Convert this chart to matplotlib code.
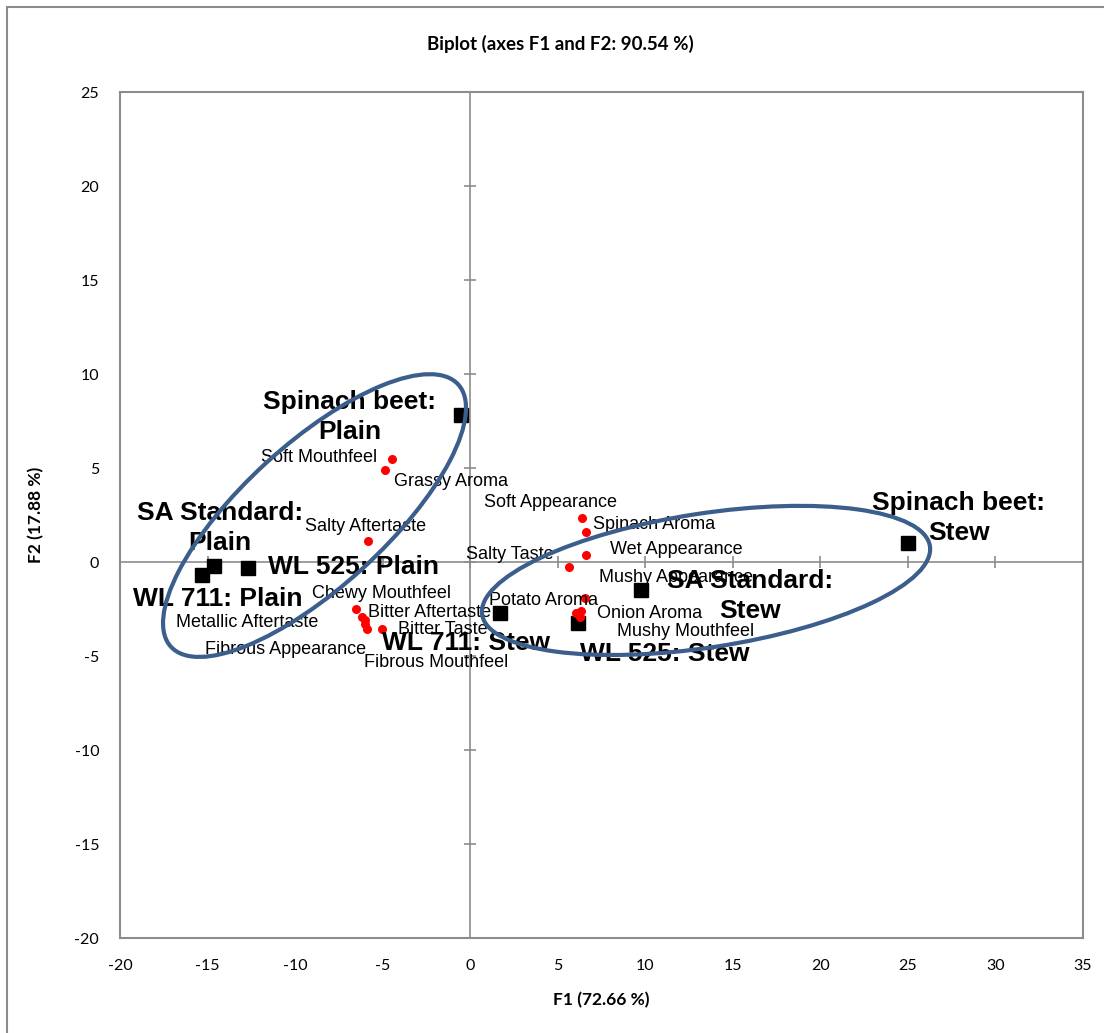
import matplotlib
matplotlib.use('Agg')
import matplotlib.pyplot as plt
from matplotlib.patches import Ellipse, Rectangle
from matplotlib.transforms import ScaledTranslation

plt.rcParams['axes.unicode_minus'] = False

# observations (squares)
obs_names = ['Spinach beet:\nPlain', 'SA Standard:\nPlain', 'WL 711: Plain', 'WL 525: Plain',
             'Spinach beet:\nStew', 'SA Standard:\nStew', 'WL 711: Stew', 'WL 525: Stew']
obs_f1 = [-0.53, -14.63, -15.30, -12.70, 25.00, 9.75, 1.70, 6.13]
obs_f2 = [7.82, -0.21, -0.69, -0.32, 1.00, -1.49, -2.73, -3.26]

# variables (red dots)
var_names = ['Soft Mouthfeel', 'Grassy Aroma', 'Salty Aftertaste', 'Chewy Mouthfeel',
             'Bitter Aftertaste', 'Metallic Aftertaste', 'Fibrous Appearance',
             'Fibrous Mouthfeel', 'Bitter Taste', 'Soft Appearance', 'Spinach Aroma',
             'Wet Appearance', 'Salty Taste', 'Potato Aroma', 'Mushy Appearance',
             'Onion Aroma', 'Mushy Mouthfeel']
var_f1 = [-4.47, -4.87, -5.84, -6.54, -6.18, -6.00, -5.98, -5.89, -5.02,
          6.38, 6.61, 6.63, 5.64, 6.56, 6.33, 6.03, 6.27]
var_f2 = [5.48, 4.89, 1.12, -2.52, -2.95, -3.09, -3.30, -3.54, -3.56,
          2.36, 1.58, 0.36, -0.25, -1.93, -2.60, -2.73, -2.91]

xticks = list(range(-20, 36, 5))
yticks = list(range(-20, 26, 5))

# label offsets in pixels (x right, y up)
obs_off = [(-111, -2), (6, 38), (15, -24), (106, 1), (51, 25), (109, -6), (-34, -30), (87, -31)]
var_off = [(-73, 1), (66, -11), (-2, 14), (26, 16), (68, 5), (-118, -2), (-80, -25),
           (69, -34), (61, -1), (-31, 15), (68, 8), (90, 6), (-59, 12), (-42, -2),
           (95, 33), (74, 0), (106, -15)]

grey = '#8c8c8c'
fig = plt.figure(figsize=(11.04, 10.33), dpi=100)
ax = fig.add_axes([120/1104, 1 - 938/1033, 963/1104, 846/1033])

# frame around the chart
fig.patches.append(Rectangle((7/1104, -0.1), 1.2, 1 - 7/1033 + 0.1, transform=fig.transFigure,
                             fill=False, edgecolor=grey, lw=1.5))

ax.set_xlim(-20, 35)
ax.set_ylim(-20, 25)
for s in ax.spines.values():
    s.set_color(grey)
    s.set_linewidth(1.5)
ax.set_xticks(xticks)
ax.set_yticks(yticks)
ax.tick_params(length=0, labelsize=11.5, pad=15)
for lab in ax.get_xticklabels() + ax.get_yticklabels():
    lab.set_fontfamily('Lato')

# central axes with tick crosses
ax.axhline(0, color=grey, lw=1.2, zorder=1)
ax.axvline(0, color=grey, lw=1.2, zorder=1)
ax.plot(xticks, [0] * len(xticks), '|', color=grey, ms=8, mew=1.2, zorder=1)
ax.plot([0] * len(yticks), yticks, '_', color=grey, ms=8, mew=1.2, zorder=1)

ax.plot(var_f1, var_f2, 'o', color='#ff0000', ms=6.5, mec='none', zorder=3)
ax.plot(obs_f1, obs_f2, 's', color='black', ms=10, zorder=2)

for n, x, y, o in zip(var_names, var_f1, var_f2, var_off):
    ax.annotate(n, (x, y), xytext=o, textcoords='offset pixels', ha='center', va='center',
                fontsize=13, family='Liberation Sans', zorder=4)
for n, x, y, o in zip(obs_names, obs_f1, obs_f2, obs_off):
    ax.annotate(n, (x, y), xytext=o, textcoords='offset pixels', ha='center', va='center',
                fontsize=19, fontweight='bold', family='Liberation Sans',
                linespacing=1.3, zorder=4)

# group ellipses (drawn in inches around a data-space centre)
for cx, cy, w, h, ang in [(-8.89, 2.47, 3.89, 1.43, 42.4), (13.47, -0.98, 4.53, 1.34, 8.7)]:
    tr = fig.dpi_scale_trans + ScaledTranslation(cx, cy, ax.transData)
    ax.add_patch(Ellipse((0, 0), w, h, angle=ang, transform=tr, fill=False,
                         edgecolor='#3b5e8c', lw=3, zorder=5))

fig.text(560/1104, 1 - 44/1033, 'Biplot (axes F1 and F2: 90.54 %)', ha='center', va='center',
         fontsize=13.5, fontweight='bold', family='Lato')
ax.set_xlabel('F1 (72.66 %)', fontsize=12.5, fontweight='bold', family='Lato', labelpad=14)
ax.set_ylabel('F2 (17.88 %)', fontsize=12.5, fontweight='bold', family='Lato', labelpad=22)

fig.savefig('out.png', dpi=100)
